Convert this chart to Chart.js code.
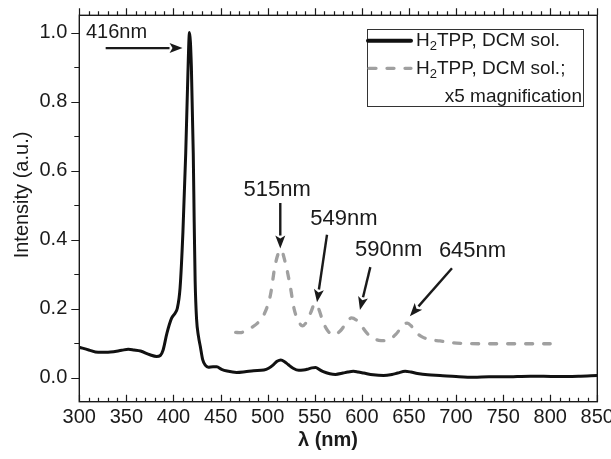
<!DOCTYPE html>
<html>
<head>
<meta charset="utf-8">
<script src="https://cdn.jsdelivr.net/npm/chart.js@4.4.1/dist/chart.umd.min.js"></script>
<style>
  html, body { margin: 0; padding: 0; background: #fff; }
</style>
</head>
<body>
<canvas id="spectrum" width="611" height="459"></canvas>
<script>
// black curve: H2TPP in DCM
const wavelength = [300, 310, 320, 333, 345, 352, 358, 365, 375, 382, 386, 389, 393, 398, 402, 404,
    407, 410, 413, 415, 417, 419, 421, 422, 423, 424.5, 426.5, 428.5, 431, 434, 437, 442, 446, 451,
    457, 467, 476, 485, 496, 501, 506, 510, 514, 518, 522, 527, 533, 538, 542, 547, 551, 555, 559,
    566, 572, 580, 585, 591, 596, 602, 612, 623, 632, 638, 646, 652, 659, 670, 683, 700, 719, 735,
    751, 779, 807, 830, 850];
const intensity = [0.088, 0.080, 0.073, 0.074, 0.079, 0.082, 0.080, 0.077, 0.066, 0.061, 0.064,
    0.080, 0.128, 0.172, 0.188, 0.200, 0.260, 0.420, 0.650, 0.850, 1.000, 0.900, 0.650, 0.450,
    0.280, 0.170, 0.120, 0.090, 0.052, 0.035, 0.030, 0.031, 0.031, 0.024, 0.019, 0.015, 0.017,
    0.020, 0.022, 0.027, 0.037, 0.047, 0.051, 0.046, 0.037, 0.027, 0.021, 0.022, 0.024, 0.028,
    0.029, 0.023, 0.017, 0.011, 0.009, 0.013, 0.016, 0.018, 0.016, 0.013, 0.008, 0.006, 0.009,
    0.013, 0.018, 0.016, 0.012, 0.008, 0.006, 0.003, 0.001, 0.002, 0.002, 0.004, 0.003, 0.004,
    0.006];

// grey dashed curve: x5 magnification
const magWavelength = [466, 471, 478, 484, 490, 496, 503, 508, 514, 519, 524, 528, 533, 537, 541,
    546, 550, 554, 559, 564, 570, 577, 584, 589, 594, 599, 605, 611, 618, 624, 630, 636, 642, 648,
    653, 658, 664, 672, 683, 695, 708, 725, 745, 770, 800];
const magIntensity = [0.131, 0.130, 0.138, 0.147, 0.160, 0.182, 0.240, 0.327, 0.370, 0.330, 0.264,
    0.200, 0.162, 0.150, 0.160, 0.190, 0.214, 0.200, 0.160, 0.135, 0.124, 0.135, 0.160, 0.173,
    0.167, 0.152, 0.130, 0.116, 0.108, 0.107, 0.112, 0.125, 0.145, 0.158, 0.148, 0.130, 0.118,
    0.110, 0.106, 0.101, 0.099, 0.098, 0.098, 0.098, 0.098];

const xTicks = [300, 350, 400, 450, 500, 550, 600, 650, 700, 750, 800, 850];
const yTicks = [0.0, 0.2, 0.4, 0.6, 0.8, 1.0];

// peak annotations (data units): label anchor, arrow tail, arrow head
const peakLabels = ['416nm', '515nm', '549nm', '590nm', '645nm'];
const labelAt = [[307, 1.0], [510, 0.545], [581, 0.460], [628.5, 0.369], [717.5, 0.366]];
const arrowFrom = [[328, 0.955], [513.4, 0.506], [563, 0.414], [609, 0.320], [695.7, 0.317]];
const arrowTo = [[409.6, 0.955], [513.4, 0.374], [552.4, 0.218], [598, 0.196], [651, 0.178]];

const FONT = '"Liberation Sans", Arial, sans-serif';
const INK = '#1a1a1a';
const GREY = '#a0a0a0';

function arrow(ctx, x1, y1, x2, y2) {
    const ang = Math.atan2(y2 - y1, x2 - x1);
    const hl = 13, hw = 5;
    const bx = x2 - hl * Math.cos(ang), by = y2 - hl * Math.sin(ang);
    ctx.beginPath();
    ctx.moveTo(x1, y1);
    ctx.lineTo(bx, by);
    ctx.stroke();
    ctx.beginPath();
    ctx.moveTo(x2, y2);
    ctx.lineTo(bx + hw * Math.sin(ang), by - hw * Math.cos(ang));
    ctx.lineTo(x2 - (hl - 3) * Math.cos(ang), y2 - (hl - 3) * Math.sin(ang));
    ctx.lineTo(bx - hw * Math.sin(ang), by + hw * Math.cos(ang));
    ctx.closePath();
    ctx.fill();
}

// "H2TPP, ..." with subscript 2
function subLabel(ctx, x, y, rest) {
    ctx.textAlign = 'left';
    ctx.font = '19px ' + FONT;
    ctx.fillText('H', x, y);
    let w = ctx.measureText('H').width;
    ctx.font = '13px ' + FONT;
    ctx.fillText('2', x + w, y + 6);
    w += ctx.measureText('2').width;
    ctx.font = '19px ' + FONT;
    ctx.fillText(rest, x + w, y);
}

const decorations = {
    id: 'decorations',
    afterDraw(chart) {
        const {ctx, chartArea: a, scales: {x, y}} = chart;
        ctx.save();
        ctx.strokeStyle = INK;
        ctx.fillStyle = INK;

        // frame
        ctx.lineWidth = 1.4;
        ctx.strokeRect(a.left, a.top, a.right - a.left, a.bottom - a.top);

        // x ticks: bottom pointing in, top pointing out
        ctx.lineWidth = 1.2;
        ctx.beginPath();
        for (let v = x.min; v <= x.max; v += 10) {
            const px = Math.round(x.getPixelForValue(v)) + 0.5;
            const len = v % 50 === 0 ? 7 : 4;
            ctx.moveTo(px, a.bottom);
            ctx.lineTo(px, a.bottom - len);
            ctx.moveTo(px, a.top);
            ctx.lineTo(px, a.top - len);
        }
        // y ticks: left, pointing out
        for (let v = 0; v <= 1.0001; v += 0.1) {
            const py = Math.round(y.getPixelForValue(v)) + 0.5;
            const len = Math.round(v * 10) % 2 === 0 ? 8 : 5;
            ctx.moveTo(a.left, py);
            ctx.lineTo(a.left - len, py);
        }
        ctx.stroke();

        // peak labels and arrows
        ctx.textBaseline = 'middle';
        ctx.lineWidth = 2.4;
        peakLabels.forEach((t, i) => {
            ctx.font = (i === 0 ? '20px ' : '22px ') + FONT;
            ctx.textAlign = i === 0 ? 'left' : 'center';
            ctx.fillText(t, x.getPixelForValue(labelAt[i][0]), y.getPixelForValue(labelAt[i][1]));
            arrow(ctx,
                x.getPixelForValue(arrowFrom[i][0]), y.getPixelForValue(arrowFrom[i][1]),
                x.getPixelForValue(arrowTo[i][0]), y.getPixelForValue(arrowTo[i][1]));
        });

        // legend
        const ds = chart.data.datasets;
        ctx.lineWidth = 1;
        ctx.strokeStyle = '#333';
        ctx.strokeRect(367.5, 29.5, 216, 77);
        ctx.lineCap = 'round';
        ctx.lineWidth = ds[0].borderWidth + 1;
        ctx.strokeStyle = ds[0].borderColor;
        ctx.beginPath(); ctx.moveTo(368, 40.7); ctx.lineTo(411, 40.7); ctx.stroke();
        ctx.lineWidth = ds[1].borderWidth;
        ctx.strokeStyle = ds[1].borderColor;
        ctx.setLineDash(ds[1].borderDash);
        ctx.beginPath(); ctx.moveTo(369, 68.3); ctx.lineTo(411, 68.3); ctx.stroke();
        ctx.setLineDash([]);
        ctx.fillStyle = INK;
        subLabel(ctx, 416, 40.7, 'TPP, DCM sol.');
        subLabel(ctx, 416, 68.3, 'TPP, DCM sol.;');
        ctx.textAlign = 'right';
        ctx.fillText('x5 magnification', 582, 96.5);

        // axis titles
        ctx.font = '20px ' + FONT;
        ctx.textAlign = 'center';
        ctx.save();
        ctx.translate(22, 195);
        ctx.rotate(-Math.PI / 2);
        ctx.fillText('Intensity (a.u.)', 0, 0);
        ctx.restore();
        ctx.font = 'bold 20px ' + FONT;
        ctx.fillText('\u03bb (nm)', 328, 440);
        ctx.restore();
    }
};

const ctx = document.getElementById('spectrum').getContext('2d');
new Chart(ctx, {
    type: 'line',
    data: {
        datasets: [
            {
                label: 'H2TPP, DCM sol.',
                data: wavelength.map((w, i) => ({x: w, y: intensity[i]})),
                borderColor: '#111111',
                borderWidth: 3,
                pointRadius: 0,
                cubicInterpolationMode: 'monotone',
                fill: false
            },
            {
                label: 'H2TPP, DCM sol.; x5 magnification',
                data: magWavelength.map((w, i) => ({x: w, y: magIntensity[i]})),
                borderColor: GREY,
                borderWidth: 3.3,
                borderDash: [7, 11],
                borderCapStyle: 'round',
                pointRadius: 0,
                cubicInterpolationMode: 'monotone',
                fill: false
            }
        ]
    },
    options: {
        responsive: false,
        animation: false,
        devicePixelRatio: 1,
        layout: {
            padding: {top: 15.3, right: 13.7, bottom: 0, left: 0}
        },
        scales: {
            x: {
                type: 'linear',
                min: 300,
                max: 850,
                afterBuildTicks: s => { s.ticks = xTicks.map(v => ({value: v})); },
                afterFit: s => { s.height = 57.3; s.paddingLeft = 0; s.paddingRight = 0; },
                grid: {display: false, drawTicks: false},
                border: {display: false},
                ticks: {
                    font: {family: FONT, size: 20},
                    color: INK,
                    padding: 4,
                    maxRotation: 0,
                    autoSkip: false
                }
            },
            y: {
                type: 'linear',
                min: -0.07,
                max: 1.05,
                afterBuildTicks: s => { s.ticks = yTicks.map(v => ({value: v})); },
                afterFit: s => { s.width = 79.3; s.paddingTop = 0; s.paddingBottom = 0; },
                grid: {display: false, drawTicks: false},
                border: {display: false},
                ticks: {
                    font: {family: FONT, size: 20},
                    color: INK,
                    padding: 12,
                    callback: v => v.toFixed(1)
                }
            }
        },
        plugins: {
            legend: {display: false},
            tooltip: {enabled: false}
        }
    },
    plugins: [decorations]
});
</script>
</body>
</html>
